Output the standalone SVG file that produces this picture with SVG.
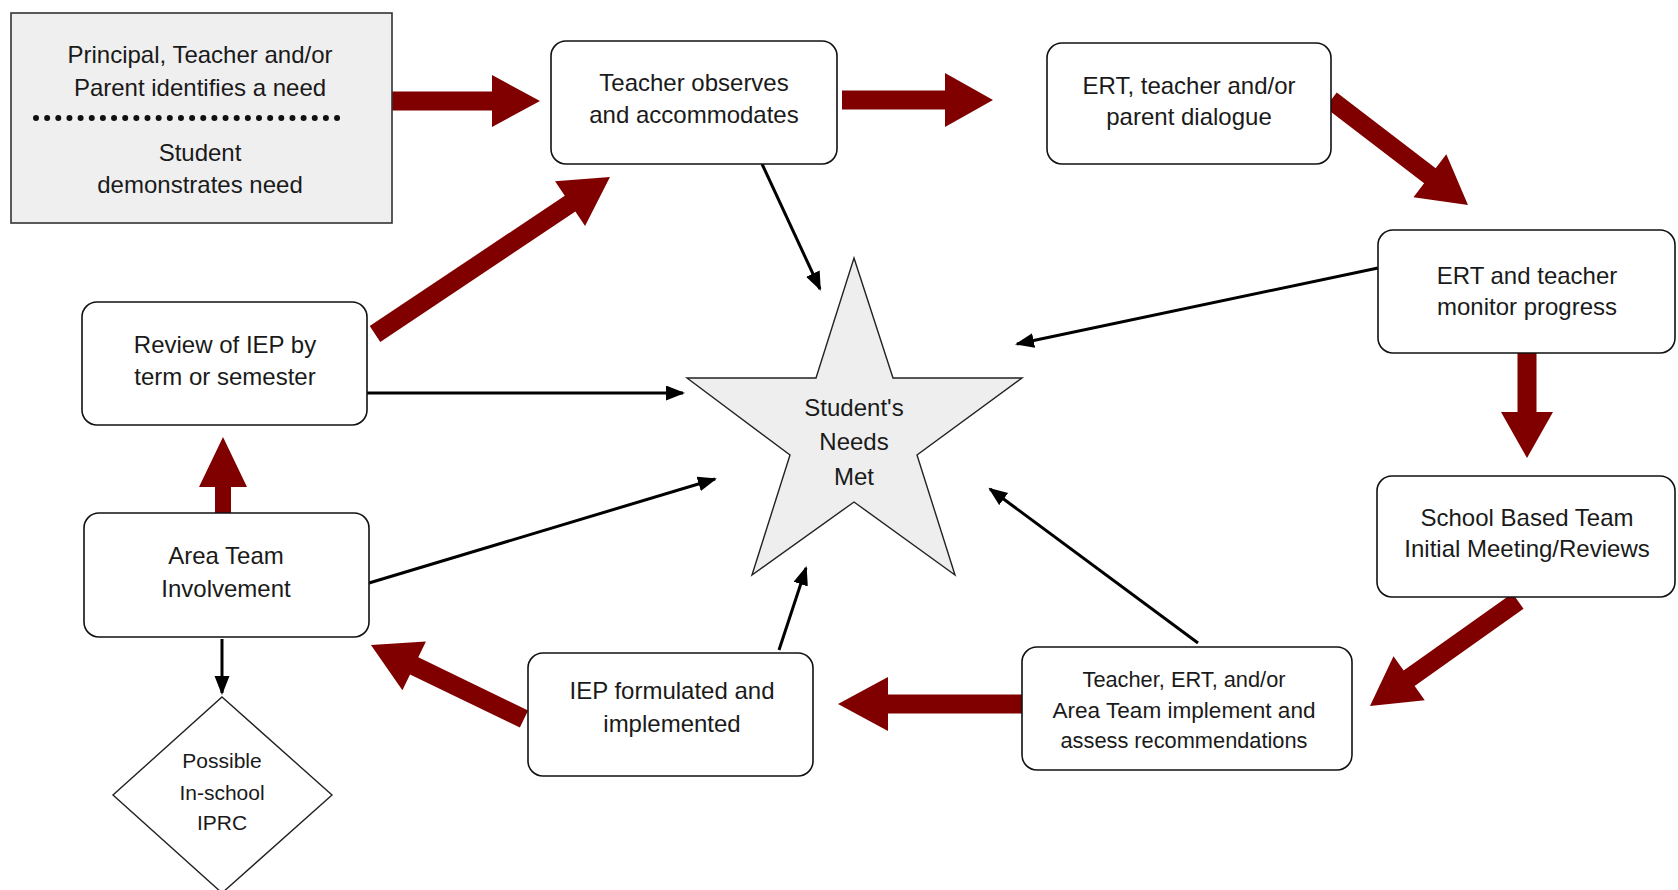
<svg xmlns="http://www.w3.org/2000/svg" width="1678" height="890" viewBox="0 0 1678 890">
<style>
.box{fill:#fff;stroke:#111;stroke-width:1.6}
.gbox{fill:#efefef;stroke:#333;stroke-width:1.6}
.star{fill:#eeeeee;stroke:#222;stroke-width:1.4}
.t{font-family:"Liberation Sans",Arial,sans-serif;font-size:24px;fill:#1a1a1a;text-anchor:middle}
.ts{font-size:22px}
.td{font-size:21px}
.big{fill:#800000}
.thin{stroke:#000;stroke-width:3;fill:none;marker-end:url(#ah)}
</style>
<defs>
<marker id="ah" markerUnits="userSpaceOnUse" markerWidth="22" markerHeight="16" refX="17" refY="7.5" orient="auto">
<path d="M0,0 L19,7.5 L0,15 Z" fill="#000"/>
</marker>
</defs>
<rect width="1678" height="890" fill="#fff"/>

<g id="connectors">
<polygon class="big" points="0,-9.5 100,-9.5 100,-26 148,0 100,26 100,9.5 0,9.5" transform="translate(392,101)"/>
<polygon class="big" points="0,-9.5 103,-9.5 103,-27 151,0 103,27 103,9.5 0,9.5" transform="translate(842,100)"/>
<polygon class="big" points="0,-9.5 124.6,-9.5 124.6,-27 172.6,0 124.6,27 124.6,9.5 0,9.5" transform="translate(1331,100) rotate(37.47)"/>
<polygon class="big" points="0,-9.5 59,-9.5 59,-26 105,0 59,26 59,9.5 0,9.5" transform="translate(1527,353) rotate(90)"/>
<polygon class="big" points="0,-9.5 133.5,-9.5 133.5,-27 181.5,0 133.5,27 133.5,9.5 0,9.5" transform="translate(1518,601) rotate(144.64)"/>
<polygon class="big" points="0,-9.5 134,-9.5 134,-27 184,0 134,27 134,9.5 0,9.5" transform="translate(1022,704) rotate(180)"/>
<polygon class="big" points="0,-9.5 122,-9.5 122,-27 170,0 122,27 122,9.5 0,9.5" transform="translate(524,719) rotate(-154.19)"/>
<polygon class="big" points="0,-8 27,-8 27,-24 77,0 27,24 27,8 0,8" transform="translate(223,514) rotate(-90)"/>
<polygon class="big" points="0,-9.5 234.6,-9.5 234.6,-27 282.6,0 234.6,27 234.6,9.5 0,9.5" transform="translate(375,334) rotate(-33.75)"/>

<line class="thin" x1="762" y1="164" x2="820" y2="289"/>
<line class="thin" x1="1378" y1="268" x2="1017" y2="344"/>
<line class="thin" x1="367" y1="393" x2="683" y2="393"/>
<line class="thin" x1="369" y1="583" x2="715" y2="479"/>
<line class="thin" x1="779" y1="650" x2="806" y2="568"/>
<line class="thin" x1="1198" y1="643" x2="990" y2="489"/>
<line class="thin" x1="222" y1="639" x2="222" y2="693"/>
</g>

<g id="n-start">
<rect class="gbox" x="11" y="13" width="381" height="210"/>
<text class="t" x="200" y="63">Principal, Teacher and/or</text>
<text class="t" x="200" y="96">Parent identifies a need</text>
<line x1="36" y1="118" x2="348" y2="118" stroke="#111" stroke-width="6" stroke-linecap="round" stroke-dasharray="0 11.15"/>
<text class="t" x="200" y="161">Student</text>
<text class="t" x="200" y="193">demonstrates need</text>
</g>

<g id="n-observe">
<rect class="box" x="551" y="41" width="286" height="123" rx="15"/>
<text class="t" x="694" y="91">Teacher observes</text>
<text class="t" x="694" y="123">and accommodates</text>
</g>

<g id="n-dialogue">
<rect class="box" x="1047" y="43" width="284" height="121" rx="15"/>
<text class="t" x="1189" y="94">ERT, teacher and/or</text>
<text class="t" x="1189" y="125">parent dialogue</text>
</g>

<g id="n-monitor">
<rect class="box" x="1378" y="230" width="297" height="123" rx="15"/>
<text class="t" x="1527" y="284">ERT and teacher</text>
<text class="t" x="1527" y="315">monitor progress</text>
</g>

<g id="n-sbt">
<rect class="box" x="1377" y="476" width="298" height="121" rx="15"/>
<text class="t" x="1527" y="526">School Based Team</text>
<text class="t" x="1527" y="557">Initial Meeting/Reviews</text>
</g>

<g id="n-implement">
<rect class="box" x="1022" y="647" width="330" height="123" rx="15"/>
<text class="t ts" x="1184" y="687" textLength="203" lengthAdjust="spacingAndGlyphs">Teacher, ERT, and/or</text>
<text class="t ts" x="1184" y="718" textLength="263" lengthAdjust="spacingAndGlyphs">Area Team implement and</text>
<text class="t ts" x="1184" y="748" textLength="247" lengthAdjust="spacingAndGlyphs">assess recommendations</text>
</g>

<g id="n-iep">
<rect class="box" x="528" y="653" width="285" height="123" rx="15"/>
<text class="t" x="672" y="699">IEP formulated and</text>
<text class="t" x="672" y="732">implemented</text>
</g>

<g id="n-area">
<rect class="box" x="84" y="513" width="285" height="124" rx="15"/>
<text class="t" x="226" y="564">Area Team</text>
<text class="t" x="226" y="597">Involvement</text>
</g>

<g id="n-review">
<rect class="box" x="82" y="302" width="285" height="123" rx="15"/>
<text class="t" x="225" y="353">Review of IEP by</text>
<text class="t" x="225" y="385">term or semester</text>
</g>

<g id="n-iprc">
<polygon points="222,697 332,795 222,893 113,795" fill="#fff" stroke="#222" stroke-width="1.4"/>
<text class="t td" x="222" y="768">Possible</text>
<text class="t td" x="222" y="800">In-school</text>
<text class="t td" x="222" y="830">IPRC</text>
</g>

<g id="n-star">
<polygon class="star" points="854,258 893,378 1022,378 917,455 955,575 854,502 752,575 790,455 687,378 816,378"/>
<text class="t" x="854" y="416">Student's</text>
<text class="t" x="854" y="450">Needs</text>
<text class="t" x="854" y="485">Met</text>
</g>
</svg>
